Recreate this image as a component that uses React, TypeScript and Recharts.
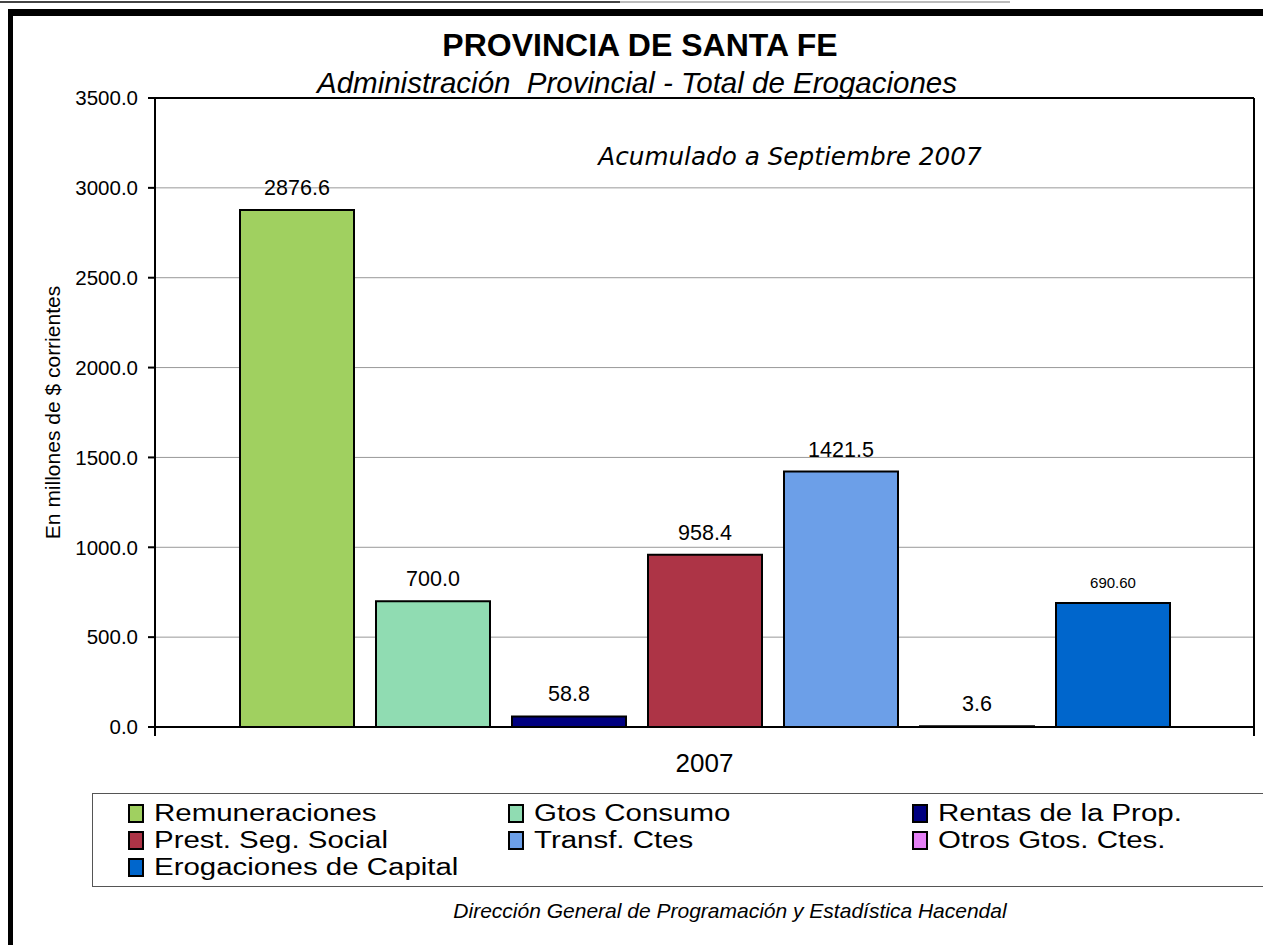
import React from 'react';
import * as Recharts from 'recharts';
import { BarChart, Bar, XAxis, YAxis, CartesianGrid, Legend, LabelList, Label } from 'recharts';

const categories = ['2007'];
const seriesKeys = ['rem', 'gtos', 'rentas', 'prest', 'transf', 'otros', 'erog'];
const seriesNames = [
  'Remuneraciones',
  'Gtos Consumo',
  'Rentas de la Prop.',
  'Prest. Seg. Social',
  'Transf. Ctes',
  'Otros Gtos. Ctes.',
  'Erogaciones de Capital',
];
const remuneraciones = [2876.6];
const gtosConsumo = [700.0];
const rentasProp = [58.8];
const prestSegSocial = [958.4];
const transfCtes = [1421.5];
const otrosGtosCtes = [3.6];
const erogCapital = [690.6];
const seriesValues = [remuneraciones, gtosConsumo, rentasProp, prestSegSocial, transfCtes, otrosGtosCtes, erogCapital];
const seriesColors = ['#A0D060', '#90DCB2', '#000080', '#AD3446', '#6C9FE8', '#E580F5', '#0066CC'];
const labelDecimals = [1, 1, 1, 1, 1, 1, 2];
const yTicks = [0, 500, 1000, 1500, 2000, 2500, 3000, 3500];

const data = categories.map((c, i) => {
  const row: Record<string, any> = { year: c };
  seriesKeys.forEach((k, j) => {
    row[k] = seriesValues[j][i];
  });
  return row;
});

const FONT = '"Liberation Sans", Arial, sans-serif';
const R: any = Recharts;

function PlotFrame() {
  const pa = R.usePlotArea ? R.usePlotArea() : null;
  if (!pa) return null;
  return (
    <g>
      <line x1={pa.x} y1={pa.y} x2={pa.x + pa.width} y2={pa.y} stroke="#000" strokeWidth={2} />
      <line x1={pa.x + pa.width} y1={pa.y} x2={pa.x + pa.width} y2={pa.y + pa.height + 9} stroke="#000" strokeWidth={2} />
      <line x1={pa.x} y1={pa.y + pa.height} x2={pa.x} y2={pa.y + pa.height + 9} stroke="#000" strokeWidth={2} />
    </g>
  );
}

const LegendContent = (props: any) => {
  const payload = [...(props.payload || [])].sort(
    (a: any, b: any) => seriesNames.indexOf(a.value) - seriesNames.indexOf(b.value)
  );
  return (
    <div
      style={{
        boxSizing: 'border-box',
        width: 1250,
        height: 94,
        border: '1px solid #555',
        padding: '6px 0 0 35px',
        display: 'grid',
        gridTemplateColumns: '380px 404px 340px',
        gridAutoRows: '27px',
        fontFamily: FONT,
        fontSize: 23,
        lineHeight: '27px',
        color: '#000',
        textAlign: 'left',
      }}
    >
      {payload.map((p: any) => (
        <div key={p.value} style={{ display: 'flex', alignItems: 'center', whiteSpace: 'nowrap' }}>
          <span
            style={{
              display: 'inline-block',
              flex: '0 0 auto',
              width: 16,
              height: 19,
              background: p.color,
              border: '2px solid #000',
              boxSizing: 'border-box',
              marginRight: 10,
            }}
          />
          <span style={{ display: 'inline-block', transform: 'scaleX(1.28)', transformOrigin: 'left center' }}>
            {p.value}
          </span>
        </div>
      ))}
    </div>
  );
};

export default function App() {
  return (
    <div style={{ position: 'absolute', left: 0, top: 0, width: 1263, height: 945, background: '#fff', overflow: 'hidden' }}>
      <div style={{ position: 'absolute', left: 0, top: 1, width: 620, height: 2, background: '#444' }} />
      <div style={{ position: 'absolute', left: 620, top: 1, width: 390, height: 2, background: '#bbb' }} />
      <div style={{ position: 'absolute', left: 8, top: 9, width: 1300, height: 7, background: '#000' }} />
      <div style={{ position: 'absolute', left: 8, top: 9, width: 5, height: 1000, background: '#000' }} />
      <div
        style={{
          position: 'absolute', left: 0, width: 1280, top: 27, textAlign: 'center',
          fontFamily: FONT, fontWeight: 'bold', fontSize: 32, lineHeight: '36px',
        }}
      >
        PROVINCIA DE SANTA FE
      </div>
      <div
        style={{
          position: 'absolute', left: 0, width: 1274, top: 67, textAlign: 'center',
          fontFamily: FONT, fontStyle: 'italic', fontSize: 29.5, lineHeight: '32px', whiteSpace: 'pre',
        }}
      >
        {'Administración  Provincial - Total de Erogaciones'}
      </div>
      <div
        style={{
          position: 'absolute', left: 0, width: 1580, top: 141, textAlign: 'center',
          fontFamily: '"DejaVu Sans", sans-serif', fontStyle: 'italic', fontSize: 24.7, lineHeight: '32px',
        }}
      >
        Acumulado a Septiembre 2007
      </div>
      <div
        style={{
          position: 'absolute', left: 0, width: 1460, top: 898, textAlign: 'center',
          fontFamily: FONT, fontStyle: 'italic', fontSize: 21, lineHeight: '26px',
        }}
      >
        Dirección General de Programación y Estadística Hacendal
      </div>
      <div style={{ position: 'absolute', left: 0, top: 0 }}>
        <BarChart
          width={1263}
          height={945}
          data={data}
          margin={{ top: 98, right: 9, bottom: 168, left: 0 }}
          barCategoryGap={85}
          barGap={22}
        >
          <CartesianGrid vertical={false} stroke="#999" strokeWidth={1} />
          <XAxis
            dataKey="year"
            height={50}
            tickLine={false}
            tickSize={0}
            tickMargin={27}
            axisLine={{ stroke: '#000', strokeWidth: 2 }}
            tick={{ fill: '#000', fontSize: 26, fontFamily: FONT }}
          />
          <YAxis
            width={155}
            domain={[0, 3500]}
            ticks={yTicks}
            interval={0}
            tickSize={7}
            tickMargin={10}
            tickFormatter={(v: number) => v.toFixed(1)}
            axisLine={{ stroke: '#000', strokeWidth: 2 }}
            tickLine={{ stroke: '#000', strokeWidth: 2 }}
            tick={{ fill: '#000', fontSize: 20.5, fontFamily: FONT }}
          >
            <Label
              content={(p: any) => {
                const vb = p.viewBox || {};
                const cx = 52;
                const cy = vb.y + vb.height / 2;
                return (
                  <text
                    x={cx}
                    y={cy}
                    transform={`rotate(-90 ${cx} ${cy})`}
                    textAnchor="middle"
                    dominantBaseline="central"
                    fontFamily={FONT}
                    fontSize={21}
                    fill="#000"
                  >
                    En millones de $ corrientes
                  </text>
                );
              }}
            />
          </YAxis>
          <Legend
            layout="horizontal"
            verticalAlign="middle"
            align="center"
            wrapperStyle={{ left: 92, top: 793, width: 1250, height: 94 }}
            content={LegendContent}
          />
          {seriesKeys.map((k, j) => (
            <Bar
              key={k}
              dataKey={k}
              name={seriesNames[j]}
              fill={seriesColors[j]}
              stroke="#000"
              strokeWidth={2}
              isAnimationActive={false}
            >
              <LabelList
                dataKey={k}
                position="top"
                offset={15}
                fill="#000"
                fontSize={j === 6 ? 15 : 21.5}
                fontFamily={FONT}
                formatter={(v: any) => Number(v).toFixed(labelDecimals[j])}
              />
            </Bar>
          ))}
          <PlotFrame />
        </BarChart>
      </div>
    </div>
  );
}
